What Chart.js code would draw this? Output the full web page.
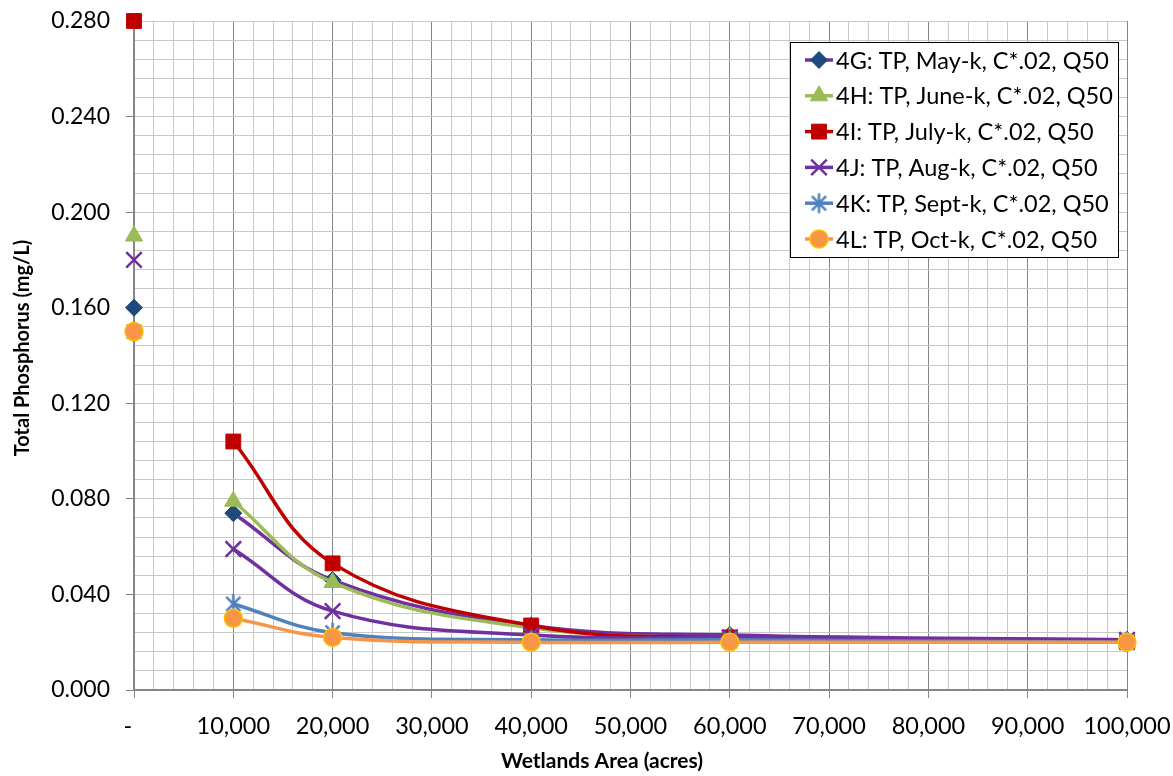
<!DOCTYPE html>
<html>
<head>
<meta charset="utf-8">
<title>Total Phosphorus vs Wetlands Area</title>
<script src="https://cdn.jsdelivr.net/npm/chart.js@4.4.1/dist/chart.umd.min.js"></script>
<style>
  html, body { margin: 0; padding: 0; background: #ffffff; }
  #wrap { position: relative; width: 1173px; height: 776px; }
</style>
</head>
<body>
<div id="wrap"><canvas id="chart"></canvas></div>
<script>
// Wetlands area (acres) at which each scenario was evaluated
const wetlandsArea = [0, 10000, 20000, 40000, 60000, 100000];

// Series names
const seriesLabels = [
  '4G: TP, May-k, C*.02, Q50',
  '4H: TP, June-k, C*.02, Q50',
  '4I: TP, July-k, C*.02, Q50',
  '4J: TP, Aug-k, C*.02, Q50',
  '4K: TP, Sept-k, C*.02, Q50',
  '4L: TP, Oct-k, C*.02, Q50'
];

// Total phosphorus (mg/L) for each scenario, one value per wetlands area
const tp4G = [0.160, 0.074, 0.046, 0.027, 0.023, 0.021];
const tp4H = [0.190, 0.079, 0.045, 0.026, 0.022, 0.020];
const tp4I = [0.280, 0.104, 0.053, 0.027, 0.022, 0.020];
const tp4J = [0.180, 0.059, 0.033, 0.023, 0.022, 0.021];
const tp4K = [0.150, 0.036, 0.024, 0.021, 0.021, 0.020];
const tp4L = [0.150, 0.030, 0.022, 0.020, 0.020, 0.020];
const seriesValues = [tp4G, tp4H, tp4I, tp4J, tp4K, tp4L];

// Labelled axis ticks
const xTickLabels = [0, 10000, 20000, 30000, 40000, 50000, 60000, 70000, 80000, 90000, 100000];
const yTickLabels = [0.000, 0.040, 0.080, 0.120, 0.160, 0.200, 0.240, 0.280];

const xAxisTitle = 'Wetlands Area (acres)';
const yAxisTitle = 'Total Phosphorus (mg/L)';

const FONT = 'Lato, "Open Sans", sans-serif';

// Six-armed asterisk marker (two diagonals plus a vertical stroke)
function asteriskMarker(r, color, lw) {
  const size = Math.ceil(2 * r + lw + 2);
  const c = document.createElement('canvas');
  c.width = size; c.height = size;
  const g = c.getContext('2d');
  const m = size / 2, d = r * Math.SQRT1_2;
  g.strokeStyle = color;
  g.lineWidth = lw;
  g.beginPath();
  g.moveTo(m - d, m - d); g.lineTo(m + d, m + d);
  g.moveTo(m + d, m - d); g.lineTo(m - d, m + d);
  g.moveTo(m, m - r); g.lineTo(m, m + r);
  g.stroke();
  return c;
}

const seriesStyles = [
  { line: '#7030A0', fill: '#1F497D', border: '#1F497D', point: 'rectRot',  radius: 8.5,  bw: 1 },
  { line: '#9BBB59', fill: '#9BBB59', border: '#9BBB59', point: 'triangle', radius: 10,   bw: 1 },
  { line: '#C00000', fill: '#C00000', border: '#C00000', point: 'rect',     radius: 10.5, bw: 1 },
  { line: '#7030A0', fill: '#7030A0', border: '#7030A0', point: 'crossRot', radius: 11,   bw: 2.5 },
  { line: '#4F81BD', fill: '#4F81BD', border: '#4F81BD', point: asteriskMarker(10, '#4F81BD', 2.5), radius: 10, bw: 2.5 },
  { line: '#F79646', fill: '#F79646', border: '#FFC000', point: 'circle',   radius: 9,    bw: 1.5 }
];

// Build datasets: the zero-area value is a lone marker, the rest is a smoothed line
const datasets = [];
seriesValues.forEach((vals, i) => {
  const st = seriesStyles[i];
  const common = {
    pointStyle: st.point,
    pointRadius: st.radius,
    pointHoverRadius: st.radius,
    pointBackgroundColor: st.fill,
    pointBorderColor: st.border,
    pointBorderWidth: st.bw,
    borderColor: st.line,
    backgroundColor: st.fill,
    clip: false
  };
  datasets.push(Object.assign({
    label: seriesLabels[i],
    isSeriesLine: true,
    data: wetlandsArea.slice(1).map((x, k) => ({ x: x, y: vals[k + 1] })),
    showLine: true,
    borderWidth: 3.5,
    tension: 0.4,
    order: (seriesValues.length - i) * 2
  }, common));
  datasets.push(Object.assign({
    label: seriesLabels[i] + ' (no wetlands)',
    data: [{ x: wetlandsArea[0], y: vals[0] }],
    showLine: false,
    borderWidth: 0,
    order: (seriesValues.length - i) * 2 + 1
  }, common));
});

// Axis titles and the boxed legend inside the plot area
const chartDecor = {
  id: 'chartDecor',
  afterDraw(chart) {
    const ctx = chart.ctx;
    ctx.save();

    ctx.fillStyle = '#000000';
    ctx.font = 'bold 21px ' + FONT;
    ctx.textAlign = 'center';
    ctx.textBaseline = 'alphabetic';
    ctx.fillText(xAxisTitle, 602, 768);

    ctx.save();
    ctx.translate(29, 348);
    ctx.rotate(-Math.PI / 2);
    ctx.font = 'bold 20px ' + FONT;
    ctx.fillText(yAxisTitle, 0, 0);
    ctx.restore();

    const left = 790, top = 42, width = 328, height = 215;
    const rowH = 35.8, firstRow = 60;
    ctx.fillStyle = '#ffffff';
    ctx.fillRect(left, top, width, height);
    ctx.strokeStyle = '#000000';
    ctx.lineWidth = 1;
    ctx.strokeRect(left + 0.5, top + 0.5, width, height);
    ctx.font = '23.5px ' + FONT;
    ctx.textBaseline = 'middle';
    ctx.textAlign = 'left';
    chart.data.datasets.filter(d => d.isSeriesLine).forEach((ds, r) => {
      const y = firstRow + r * rowH;
      ctx.strokeStyle = ds.borderColor;
      ctx.lineWidth = 3.5;
      ctx.beginPath();
      ctx.moveTo(805, y);
      ctx.lineTo(833, y);
      ctx.stroke();
      ctx.fillStyle = ds.pointBackgroundColor;
      ctx.strokeStyle = ds.pointBorderColor;
      ctx.lineWidth = ds.pointBorderWidth;
      Chart.helpers.drawPoint(ctx, {
        pointStyle: ds.pointStyle,
        radius: ds.pointRadius,
        rotation: 0,
        borderWidth: ds.pointBorderWidth
      }, 819, y);
      ctx.fillStyle = '#000000';
      ctx.fillText(ds.label, 836, y + 1);
    });
    ctx.restore();
  }
};

const isMajorY = v => yTickLabels.some(t => Math.abs(t - v) < 1e-6);
const isMajorX = v => xTickLabels.includes(Math.round(v));

new Chart(document.getElementById('chart'), {
  type: 'scatter',
  data: { datasets: datasets },
  plugins: [chartDecor],
  options: {
    responsive: true,
    maintainAspectRatio: false,
    animation: false,
    events: [],
    layout: { padding: { left: 0, top: 21, right: 46, bottom: 0 } },
    plugins: {
      legend: { display: false },
      tooltip: { enabled: false }
    },
    scales: {
      x: {
        type: 'linear',
        min: 0,
        max: 100000,
        afterFit(scale) {
          scale.height = 86;
          scale.paddingLeft = 0; scale.paddingRight = 0;
        },
        ticks: {
          stepSize: 2000,
          autoSkip: false,
          maxRotation: 0,
          padding: 14,
          color: '#000000',
          font: { family: FONT, size: 23.5 },
          callback(v) {
            if (!isMajorX(v)) return '';
            return v === 0 ? '-  ' : Math.round(v).toLocaleString('en-US');
          }
        },
        grid: {
          lineWidth: 1,
          tickLength: 8,
          color: c => (c.tick && isMajorX(c.tick.value)) ? '#868686' : '#C8C8C8',
          tickColor: c => (c.tick && isMajorX(c.tick.value)) ? '#868686' : 'rgba(0,0,0,0)'
        },
        border: { color: '#868686', width: 2 },
        title: { display: false }
      },
      y: {
        type: 'linear',
        min: 0,
        max: 0.28,
        afterFit(scale) {
          scale.width = 134;
          scale.paddingTop = 0; scale.paddingBottom = 0;
        },
        ticks: {
          stepSize: 0.008,
          autoSkip: false,
          padding: 16,
          color: '#000000',
          font: { family: FONT, size: 23 },
          callback(v) { return isMajorY(v) ? v.toFixed(3) : ''; }
        },
        grid: {
          lineWidth: 1,
          tickLength: 8,
          color: '#C8C8C8',
          tickColor: c => (c.tick && isMajorY(c.tick.value)) ? '#868686' : 'rgba(0,0,0,0)'
        },
        border: { color: '#868686', width: 2 },
        title: { display: false }
      }
    }
  }
});
</script>
</body>
</html>
